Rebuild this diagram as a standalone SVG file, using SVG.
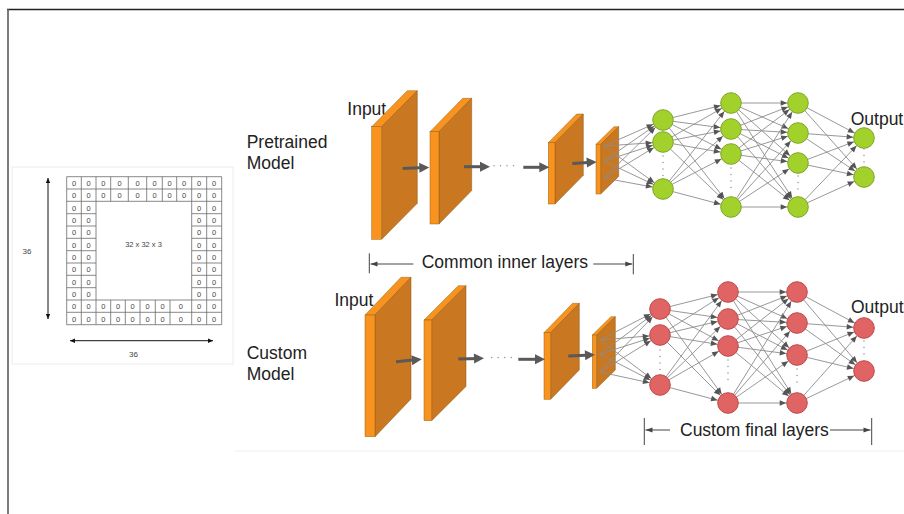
<svg xmlns="http://www.w3.org/2000/svg" width="904" height="514" viewBox="0 0 904 514">
  <style>
    .lbl{font-family:"Liberation Sans",Arial,sans-serif;font-size:17.5px;fill:#222}
    .z{font-family:"Liberation Sans",Arial,sans-serif;font-size:7.5px;fill:#444;text-anchor:middle}
    .dim{font-family:"Liberation Sans",Arial,sans-serif;font-size:8px;fill:#444;text-anchor:middle}
    .f{fill:#F7931E;stroke:#9a6418;stroke-width:0.5}
    .s{fill:#C97720;stroke:#8a5614;stroke-width:0.5}
    .e{stroke:#8c8c8c;stroke-width:0.9;fill:none;marker-end:url(#nh)}
    .big{stroke:#595959;stroke-width:3;marker-end:url(#bh)}
    .thin{stroke:#444;stroke-width:1;fill:none}
    .g{fill:#A3D12C;stroke:#7fa62a;stroke-width:1}
    .r{fill:#E06464;stroke:#c04848;stroke-width:1}
    .vd{stroke:#9a9a9a;stroke-width:1.6;stroke-linecap:round;stroke-dasharray:0 6.5}
    .grid{stroke:#6a6a6a;stroke-width:0.8;fill:none}
  </style>
  <defs>
    <marker id="nh" markerUnits="userSpaceOnUse" orient="auto" refX="10.8" refY="0" overflow="visible">
      <path d="M0,0 L-6.5,-2.8 L-6.5,2.8 Z" fill="#555"/>
    </marker>
    <marker id="bh" markerUnits="userSpaceOnUse" orient="auto" refX="6" refY="0" overflow="visible">
      <path d="M0,-5 L10,0 L0,5 Z" fill="#595959"/>
    </marker>
    <marker id="dh" markerUnits="userSpaceOnUse" orient="auto" refX="0" refY="0" overflow="visible">
      <path d="M0,0 L-7,-2.6 L-7,2.6 Z" fill="#444"/>
    </marker>
    <marker id="gh" markerUnits="userSpaceOnUse" orient="auto-start-reverse" refX="0" refY="0" overflow="visible">
      <path d="M0,0 L-5,-2.2 L-5,2.2 Z" fill="#111"/>
    </marker>
  </defs>

  <rect x="0" y="0" width="904" height="514" fill="#fff"/>

  <!-- page frame -->
  <line x1="7" y1="9.5" x2="904" y2="9.5" stroke="#222" stroke-width="1.3"/>
  <line x1="8" y1="9" x2="8" y2="514" stroke="#5a5a5a" stroke-width="1.6"/>
  <line x1="235" y1="451" x2="904" y2="451" stroke="#eeeeee" stroke-width="1"/>

  <!-- padded input grid -->
  <g id="padded-input">
    <rect x="12" y="167" width="221" height="197" fill="none" stroke="#ececec" stroke-width="1"/>
    <path class="grid" d="M66.7,176.7H221.7M66.7,189H221.7M66.7,201.3H221.7M66.7,300H221.7M66.7,312.3H221.7M66.7,324.7H221.7
      M66.7,213.7H96M66.7,226H96M66.7,238.3H96M66.7,250.7H96M66.7,263H96M66.7,275.3H96M66.7,287.7H96
      M191.7,213.7H221.7M191.7,226H221.7M191.7,238.3H221.7M191.7,250.7H221.7M191.7,263H221.7M191.7,275.3H221.7M191.7,287.7H221.7
      M66.7,176.7V324.7M81.3,176.7V324.7M96,176.7V324.7M191.7,176.7V324.7M206.7,176.7V324.7M221.7,176.7V324.7
      M110.7,176.7V201.3M128.3,176.7V201.3M146.7,176.7V201.3M162.3,176.7V201.3M176.7,176.7V201.3
      M110.7,300V324.7M125.3,300V324.7M140,300V324.7M155.3,300V324.7M170,300V324.7"/>
    <!-- top padding rows -->
    <text class="z" x="74 88.7 103.3 119.5 137.5 154.5 169.5 184.2 199.2 214.2" y="186">0000000000</text>
    <text class="z" x="74 88.7 103.3 119.5 137.5 154.5 169.5 184.2 199.2 214.2" y="198.3">0000000000</text>
    <!-- left padding columns -->
    <text class="z" x="74 88.7" y="210.6">00</text>
    <text class="z" x="74 88.7" y="223">00</text>
    <text class="z" x="74 88.7" y="235.3">00</text>
    <text class="z" x="74 88.7" y="247.6">00</text>
    <text class="z" x="74 88.7" y="260">00</text>
    <text class="z" x="74 88.7" y="272.3">00</text>
    <text class="z" x="74 88.7" y="284.6">00</text>
    <text class="z" x="74 88.7" y="297">00</text>
    <!-- right padding columns -->
    <text class="z" x="199.2 214.2" y="210.6">00</text>
    <text class="z" x="199.2 214.2" y="223">00</text>
    <text class="z" x="199.2 214.2" y="235.3">00</text>
    <text class="z" x="199.2 214.2" y="247.6">00</text>
    <text class="z" x="199.2 214.2" y="260">00</text>
    <text class="z" x="199.2 214.2" y="272.3">00</text>
    <text class="z" x="199.2 214.2" y="284.6">00</text>
    <text class="z" x="199.2 214.2" y="297">00</text>
    <!-- bottom padding rows -->
    <text class="z" x="74 88.7 103.3 118 132.7 147.7 162.7 180.8 199.2 214.2" y="309.3">0000000000</text>
    <text class="z" x="74 88.7 103.3 118 132.7 147.7 162.7 180.8 199.2 214.2" y="321.6">0000000000</text>
    <text class="z" x="143.5" y="246.5">32 x 32 x 3</text>
    <line x1="48" y1="178" x2="48" y2="319" stroke="#111" stroke-width="1" marker-start="url(#gh)" marker-end="url(#gh)"/>
    <line x1="70" y1="340.7" x2="213" y2="340.7" stroke="#111" stroke-width="1" marker-start="url(#gh)" marker-end="url(#gh)"/>
    <text class="dim" x="27" y="254">36</text>
    <text class="dim" x="133.5" y="357.3">36</text>
  </g>

  <!-- row labels -->
  <g id="label-pretrained">
    <text class="lbl" x="246.7" y="148.3">Pretrained</text>
    <text class="lbl" x="246.7" y="169">Model</text>
  </g>
  <g id="label-custom">
    <text class="lbl" x="246.7" y="359">Custom</text>
    <text class="lbl" x="246.7" y="380">Model</text>
  </g>
  <text class="lbl" x="347.3" y="115">Input</text>
  <text class="lbl" x="334.5" y="306">Input</text>
  <text class="lbl" x="850.7" y="124.5">Output</text>
  <text class="lbl" x="851" y="312.7">Output</text>

  <!-- pretrained conv stack -->
  <g id="p-conv1">
    <polygon class="f" points="371.7,126.7 381.7,126.7 417.3,90.7 407.3,90.7"/>
    <polygon class="s" points="381.7,126.7 417.3,90.7 417.3,203.3 381.7,239.3"/>
    <rect class="f" x="371.7" y="126.7" width="10" height="112.6"/>
  </g>
  <g id="p-conv2">
    <polygon class="f" points="430,131.7 439,131.7 471.7,98.3 462.7,98.3"/>
    <polygon class="s" points="439,131.7 471.7,98.3 471.7,190.6 439,224"/>
    <rect class="f" x="430" y="131.7" width="9" height="92.3"/>
  </g>
  <g id="p-conv3">
    <polygon class="f" points="548.3,142.7 555,142.7 583.3,114 576.6,114"/>
    <polygon class="s" points="555,142.7 583.3,114 583.3,175.3 555,204"/>
    <rect class="f" x="548.3" y="142.7" width="6.7" height="61.3"/>
  </g>
  <g id="p-conv4">
    <polygon class="f" points="596,144.3 600.7,144.3 618.7,126.7 614,126.7"/>
    <polygon class="s" points="600.7,144.3 618.7,126.7 618.7,176.4 600.7,194"/>
    <rect class="f" x="596" y="144.3" width="4.7" height="49.7"/>
  </g>

  <!-- custom conv stack -->
  <g id="c-conv1">
    <polygon class="f" points="365,315 375,315 411,277.3 401,277.3"/>
    <polygon class="s" points="375,315 411,277.3 411,399 375,436.7"/>
    <rect class="f" x="365" y="315" width="10" height="121.7"/>
  </g>
  <g id="c-conv2">
    <polygon class="f" points="424,320 431.7,320 466,285.7 458.3,285.7"/>
    <polygon class="s" points="431.7,320 466,285.7 466,386.4 431.7,420.7"/>
    <rect class="f" x="424" y="320" width="7.7" height="100.7"/>
  </g>
  <g id="c-conv3">
    <polygon class="f" points="544,332.7 550.7,332.7 579.3,303.3 572.6,303.3"/>
    <polygon class="s" points="550.7,332.7 579.3,303.3 579.3,369.9 550.7,399.3"/>
    <rect class="f" x="544" y="332.7" width="6.7" height="66.6"/>
  </g>
  <g id="c-conv4">
    <polygon class="f" points="592.3,335 596.7,335 615.3,316.7 610.9,316.7"/>
    <polygon class="s" points="596.7,335 615.3,316.7 615.3,370 596.7,388.3"/>
    <rect class="f" x="592.3" y="335" width="4.4" height="53.3"/>
  </g>

  <g id="connectors">
    <!-- conv flow arrows -->
    <line class="big" x1="402.7" y1="168.5" x2="425.3" y2="167.6"/>
    <line class="big" x1="464" y1="166.7" x2="486" y2="166.7"/>
    <line class="big" x1="523.3" y1="167.3" x2="545.3" y2="167.3"/>
    <line class="big" x1="572.3" y1="163.5" x2="592.7" y2="162.2"/>
    <line class="big" x1="396" y1="361.7" x2="417.7" y2="359.6"/>
    <line class="big" x1="458.3" y1="359" x2="480" y2="358.4"/>
    <line class="big" x1="518.3" y1="359.3" x2="541" y2="359.3"/>
    <line class="big" x1="568.3" y1="356" x2="591" y2="354.9"/>
    <line class="vd" x1="494" y1="165.7" x2="516" y2="165.7"/>
    <line class="vd" x1="491.7" y1="357.5" x2="512" y2="357.5"/>

    <!-- pretrained dense edges -->
    <line class="e" x1="604" y1="146" x2="663" y2="120"/>
    <line class="e" x1="604" y1="146" x2="663" y2="142"/>
    <line class="e" x1="604" y1="146" x2="663" y2="189"/>
    <line class="e" x1="604" y1="161" x2="663" y2="120"/>
    <line class="e" x1="604" y1="161" x2="663" y2="142"/>
    <line class="e" x1="604" y1="161" x2="663" y2="189"/>
    <line class="e" x1="604" y1="178" x2="663" y2="120"/>
    <line class="e" x1="604" y1="178" x2="663" y2="142"/>
    <line class="e" x1="604" y1="178" x2="663" y2="189"/>

    <line class="e" x1="663" y1="120" x2="731" y2="103"/>
    <line class="e" x1="663" y1="120" x2="731" y2="129"/>
    <line class="e" x1="663" y1="120" x2="731" y2="154"/>
    <line class="e" x1="663" y1="120" x2="731" y2="207"/>
    <line class="e" x1="663" y1="142" x2="731" y2="103"/>
    <line class="e" x1="663" y1="142" x2="731" y2="129"/>
    <line class="e" x1="663" y1="142" x2="731" y2="154"/>
    <line class="e" x1="663" y1="142" x2="731" y2="207"/>
    <line class="e" x1="663" y1="189" x2="731" y2="103"/>
    <line class="e" x1="663" y1="189" x2="731" y2="129"/>
    <line class="e" x1="663" y1="189" x2="731" y2="154"/>
    <line class="e" x1="663" y1="189" x2="731" y2="207"/>

    <line class="e" x1="731" y1="103" x2="798" y2="103"/>
    <line class="e" x1="731" y1="103" x2="798" y2="133"/>
    <line class="e" x1="731" y1="103" x2="798" y2="163"/>
    <line class="e" x1="731" y1="103" x2="798" y2="207"/>
    <line class="e" x1="731" y1="129" x2="798" y2="103"/>
    <line class="e" x1="731" y1="129" x2="798" y2="133"/>
    <line class="e" x1="731" y1="129" x2="798" y2="163"/>
    <line class="e" x1="731" y1="129" x2="798" y2="207"/>
    <line class="e" x1="731" y1="154" x2="798" y2="103"/>
    <line class="e" x1="731" y1="154" x2="798" y2="133"/>
    <line class="e" x1="731" y1="154" x2="798" y2="163"/>
    <line class="e" x1="731" y1="154" x2="798" y2="207"/>
    <line class="e" x1="731" y1="207" x2="798" y2="103"/>
    <line class="e" x1="731" y1="207" x2="798" y2="133"/>
    <line class="e" x1="731" y1="207" x2="798" y2="163"/>
    <line class="e" x1="731" y1="207" x2="798" y2="207"/>

    <line class="e" x1="798" y1="103" x2="864" y2="138"/>
    <line class="e" x1="798" y1="103" x2="864" y2="177"/>
    <line class="e" x1="798" y1="133" x2="864" y2="138"/>
    <line class="e" x1="798" y1="133" x2="864" y2="177"/>
    <line class="e" x1="798" y1="163" x2="864" y2="138"/>
    <line class="e" x1="798" y1="163" x2="864" y2="177"/>
    <line class="e" x1="798" y1="207" x2="864" y2="138"/>
    <line class="e" x1="798" y1="207" x2="864" y2="177"/>

    <!-- custom dense edges -->
    <line class="e" x1="600" y1="340" x2="660" y2="309"/>
    <line class="e" x1="600" y1="340" x2="660" y2="335"/>
    <line class="e" x1="600" y1="340" x2="660" y2="385"/>
    <line class="e" x1="600" y1="354" x2="660" y2="309"/>
    <line class="e" x1="600" y1="354" x2="660" y2="335"/>
    <line class="e" x1="600" y1="354" x2="660" y2="385"/>
    <line class="e" x1="600" y1="372" x2="660" y2="309"/>
    <line class="e" x1="600" y1="372" x2="660" y2="335"/>
    <line class="e" x1="600" y1="372" x2="660" y2="385"/>

    <line class="e" x1="660" y1="309" x2="728" y2="292"/>
    <line class="e" x1="660" y1="309" x2="728" y2="319"/>
    <line class="e" x1="660" y1="309" x2="728" y2="346"/>
    <line class="e" x1="660" y1="309" x2="728" y2="403"/>
    <line class="e" x1="660" y1="335" x2="728" y2="292"/>
    <line class="e" x1="660" y1="335" x2="728" y2="319"/>
    <line class="e" x1="660" y1="335" x2="728" y2="346"/>
    <line class="e" x1="660" y1="335" x2="728" y2="403"/>
    <line class="e" x1="660" y1="385" x2="728" y2="292"/>
    <line class="e" x1="660" y1="385" x2="728" y2="319"/>
    <line class="e" x1="660" y1="385" x2="728" y2="346"/>
    <line class="e" x1="660" y1="385" x2="728" y2="403"/>

    <line class="e" x1="728" y1="292" x2="797" y2="292"/>
    <line class="e" x1="728" y1="292" x2="797" y2="323"/>
    <line class="e" x1="728" y1="292" x2="797" y2="355"/>
    <line class="e" x1="728" y1="292" x2="797" y2="403"/>
    <line class="e" x1="728" y1="319" x2="797" y2="292"/>
    <line class="e" x1="728" y1="319" x2="797" y2="323"/>
    <line class="e" x1="728" y1="319" x2="797" y2="355"/>
    <line class="e" x1="728" y1="319" x2="797" y2="403"/>
    <line class="e" x1="728" y1="346" x2="797" y2="292"/>
    <line class="e" x1="728" y1="346" x2="797" y2="323"/>
    <line class="e" x1="728" y1="346" x2="797" y2="355"/>
    <line class="e" x1="728" y1="346" x2="797" y2="403"/>
    <line class="e" x1="728" y1="403" x2="797" y2="292"/>
    <line class="e" x1="728" y1="403" x2="797" y2="323"/>
    <line class="e" x1="728" y1="403" x2="797" y2="355"/>
    <line class="e" x1="728" y1="403" x2="797" y2="403"/>

    <line class="e" x1="797" y1="292" x2="864" y2="328"/>
    <line class="e" x1="797" y1="292" x2="864" y2="371"/>
    <line class="e" x1="797" y1="323" x2="864" y2="328"/>
    <line class="e" x1="797" y1="323" x2="864" y2="371"/>
    <line class="e" x1="797" y1="355" x2="864" y2="328"/>
    <line class="e" x1="797" y1="355" x2="864" y2="371"/>
    <line class="e" x1="797" y1="403" x2="864" y2="328"/>
    <line class="e" x1="797" y1="403" x2="864" y2="371"/>

    <!-- ellipsis dots inside layers -->
    <line class="vd" x1="663" y1="156" x2="663" y2="178"/>
    <line class="vd" x1="731" y1="168" x2="731" y2="190"/>
    <line class="vd" x1="798" y1="176" x2="798" y2="194"/>
    <line class="vd" x1="864" y1="149" x2="864" y2="164"/>
    <line class="vd" x1="660" y1="350" x2="660" y2="372"/>
    <line class="vd" x1="728" y1="360" x2="728" y2="382"/>
    <line class="vd" x1="797" y1="369" x2="797" y2="388"/>
    <line class="vd" x1="864" y1="341" x2="864" y2="357"/>
  </g>

  <!-- pretrained dense nodes -->
  <g id="p-h1-1"><circle class="g" cx="663" cy="120" r="10.3"/></g>
  <g id="p-h1-2"><circle class="g" cx="663" cy="142" r="10.3"/></g>
  <g id="p-h1-3"><circle class="g" cx="663" cy="189" r="10.3"/></g>
  <g id="p-h2-1"><circle class="g" cx="731" cy="103" r="10.3"/></g>
  <g id="p-h2-2"><circle class="g" cx="731" cy="129" r="10.3"/></g>
  <g id="p-h2-3"><circle class="g" cx="731" cy="154" r="10.3"/></g>
  <g id="p-h2-4"><circle class="g" cx="731" cy="207" r="10.3"/></g>
  <g id="p-h3-1"><circle class="g" cx="798" cy="103" r="10.3"/></g>
  <g id="p-h3-2"><circle class="g" cx="798" cy="133" r="10.3"/></g>
  <g id="p-h3-3"><circle class="g" cx="798" cy="163" r="10.3"/></g>
  <g id="p-h3-4"><circle class="g" cx="798" cy="207" r="10.3"/></g>
  <g id="p-out-1"><circle class="g" cx="864" cy="138" r="10.3"/></g>
  <g id="p-out-2"><circle class="g" cx="864" cy="177" r="10.3"/></g>

  <!-- custom dense nodes -->
  <g id="c-h1-1"><circle class="r" cx="660" cy="309" r="10.3"/></g>
  <g id="c-h1-2"><circle class="r" cx="660" cy="335" r="10.3"/></g>
  <g id="c-h1-3"><circle class="r" cx="660" cy="385" r="10.3"/></g>
  <g id="c-h2-1"><circle class="r" cx="728" cy="292" r="10.3"/></g>
  <g id="c-h2-2"><circle class="r" cx="728" cy="319" r="10.3"/></g>
  <g id="c-h2-3"><circle class="r" cx="728" cy="346" r="10.3"/></g>
  <g id="c-h2-4"><circle class="r" cx="728" cy="403" r="10.3"/></g>
  <g id="c-h3-1"><circle class="r" cx="797" cy="292" r="10.3"/></g>
  <g id="c-h3-2"><circle class="r" cx="797" cy="323" r="10.3"/></g>
  <g id="c-h3-3"><circle class="r" cx="797" cy="355" r="10.3"/></g>
  <g id="c-h3-4"><circle class="r" cx="797" cy="403" r="10.3"/></g>
  <g id="c-out-1"><circle class="r" cx="864" cy="328" r="10.3"/></g>
  <g id="c-out-2"><circle class="r" cx="864" cy="371" r="10.3"/></g>

  <!-- span annotations -->
  <g id="span-common">
    <line class="thin" x1="369.3" y1="253.3" x2="369.3" y2="273.3"/>
    <line class="thin" x1="413.3" y1="264" x2="370.5" y2="264" marker-end="url(#dh)"/>
    <text class="lbl" x="421.7" y="268.3">Common inner layers</text>
    <line class="thin" x1="593.3" y1="264" x2="632.3" y2="264" marker-end="url(#dh)"/>
    <line class="thin" x1="633.3" y1="254" x2="633.3" y2="274.3"/>
  </g>
  <g id="span-custom">
    <line class="thin" x1="644.3" y1="418" x2="644.3" y2="445"/>
    <line class="thin" x1="670" y1="430" x2="645.5" y2="430" marker-end="url(#dh)"/>
    <text class="lbl" x="680" y="435.7">Custom final layers</text>
    <line class="thin" x1="830" y1="430" x2="870.5" y2="430" marker-end="url(#dh)"/>
    <line class="thin" x1="871.7" y1="418" x2="871.7" y2="445"/>
  </g>
</svg>
